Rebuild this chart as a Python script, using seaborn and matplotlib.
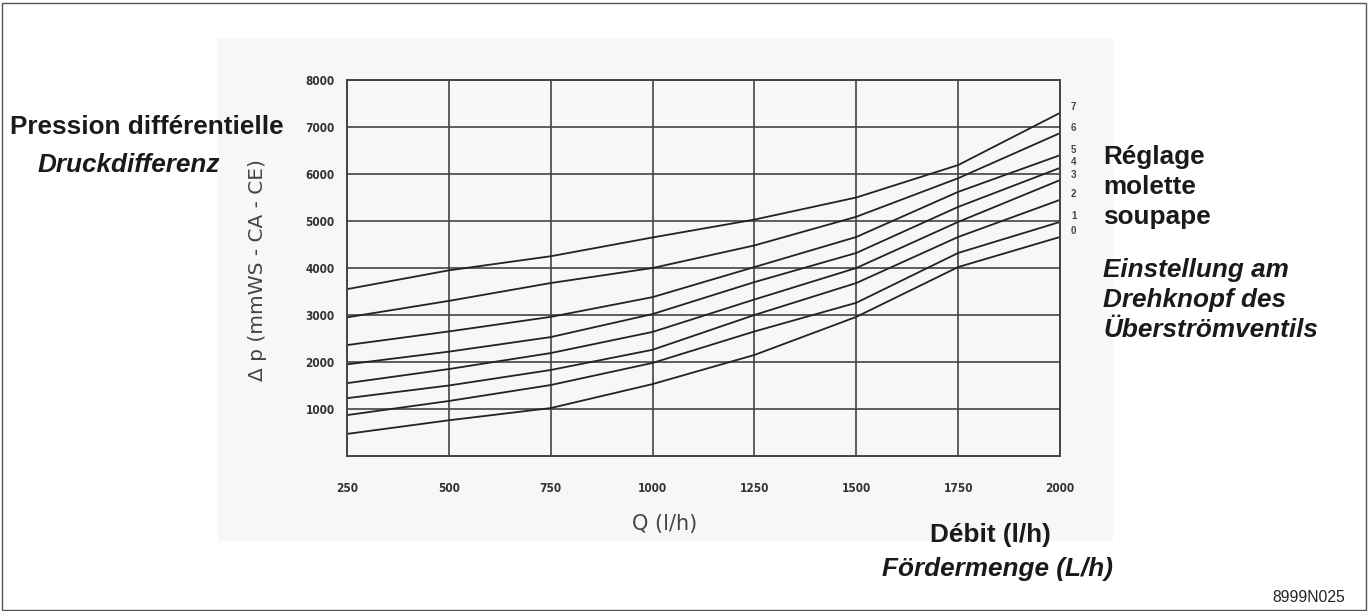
import matplotlib
matplotlib.use("Agg")
import matplotlib.pyplot as plt
import matplotlib.patches as mpatches
import seaborn as sns
import pandas as pd

# ---- data ----
flow = [250, 500, 750, 1000, 1250, 1500, 1750, 2000]
setting_7 = [3550, 3950, 4250, 4650, 5030, 5500, 6190, 7300]
setting_6 = [2950, 3300, 3680, 4000, 4480, 5090, 5910, 6870]
setting_5 = [2360, 2650, 2960, 3380, 4020, 4660, 5620, 6400]
setting_4 = [1950, 2220, 2530, 3020, 3700, 4320, 5300, 6130]
setting_3 = [1550, 1850, 2190, 2640, 3330, 4000, 4980, 5870]
setting_2 = [1230, 1500, 1830, 2260, 3000, 3680, 4660, 5450]
setting_1 = [870, 1170, 1510, 1980, 2650, 3260, 4320, 4980]
setting_0 = [470, 760, 1020, 1530, 2150, 2960, 4020, 4660]
setting_names = ["7", "6", "5", "4", "3", "2", "1", "0"]
x_ticks = [250, 500, 750, 1000, 1250, 1500, 1750, 2000]
y_ticks = [1000, 2000, 3000, 4000, 5000, 6000, 7000, 8000]

series = [setting_7, setting_6, setting_5, setting_4,
          setting_3, setting_2, setting_1, setting_0]
rows = []
for name, vals in zip(setting_names, series):
    for q, v in zip(flow, vals):
        rows.append({"Q": q, "dp": v, "setting": name})
df = pd.DataFrame(rows)

sns.set_theme(style="white")
plt.rcParams["font.family"] = ["Liberation Sans", "DejaVu Sans"]

W, H = 1369, 611
fig = plt.figure(figsize=(W / 100, H / 100), dpi=100)
fig.patch.set_facecolor("white")

# scanned-chart background and outer frame
bg = "#f7f7f7"
fig.patches.append(mpatches.Rectangle((218 / W, 1 - 541 / H), (1113 - 218) / W, (541 - 38) / H,
                                      transform=fig.transFigure, facecolor=bg, edgecolor="none", zorder=-5))
fig.patches.append(mpatches.Rectangle((1.5 / W, 1.5 / H), (W - 5) / W, (H - 4) / H,
                                      transform=fig.transFigure, facecolor="none", edgecolor="#555555",
                                      linewidth=1.0, zorder=-4))

ax = fig.add_axes([347 / W, 1 - 456 / H, (1060 - 347) / W, (456 - 80) / H])
ax.set_zorder(2)
ax.set_facecolor(bg)

sns.lineplot(data=df, x="Q", y="dp", hue="setting", hue_order=setting_names,
             palette=["#222222"] * len(setting_names), linewidth=1.3, legend=False, ax=ax)

ax.set_xlim(250, 2000)
ax.set_ylim(0, 8000)
ax.set_xticks(x_ticks)
ax.set_yticks(y_ticks)
ax.set_xticklabels([str(t) for t in x_ticks], fontsize=8.5, fontweight="bold", color="#333333",
                   family="DejaVu Sans", fontstretch="condensed")
ax.set_yticklabels([str(t) for t in y_ticks], fontsize=8.5, fontweight="bold", color="#333333",
                   family="DejaVu Sans", fontstretch="condensed")
ax.tick_params(axis="both", length=0)
ax.tick_params(axis="x", pad=19)
ax.tick_params(axis="y", pad=9)
ax.grid(True, color="#444444", linewidth=1.2)
ax.set_axisbelow(True)
for s in ax.spines.values():
    s.set_color("#444444")
    s.set_linewidth(1.4)

ax.set_xlabel("Q (l/h)", fontsize=15, color="#444444", family="DejaVu Sans")
ax.xaxis.set_label_coords(0.446, -0.155)
ax.set_ylabel("\u0394 p (mmWS - CA - CE)", fontsize=14.5, color="#444444", family="DejaVu Sans")
ax.yaxis.set_label_coords(-0.112, 0.495)

# curve labels at the right end
for name, vals in zip(setting_names, series):
    ax.annotate(name, xy=(2000, vals[-1]), xytext=(8, 4), textcoords="offset points",
                fontsize=7, fontweight="bold", color="#444444", va="center", ha="left",
                annotation_clip=False)

# annotation texts
fs = 18.8
fig.text(10 / W, 1 - 127 / H, "Pression différentielle", fontsize=fs, fontweight="bold",
         color="#1a1a1a", va="center", ha="left")
fig.text(38 / W, 1 - 165 / H, "Druckdifferenz", fontsize=fs, fontweight="bold", style="italic",
         color="#1a1a1a", va="center", ha="left")
for i, line in enumerate(["Réglage", "molette", "soupape"]):
    fig.text(1103 / W, 1 - (157 + 30 * i) / H, line, fontsize=fs, fontweight="bold",
             color="#1a1a1a", va="center", ha="left")
for i, line in enumerate(["Einstellung am", "Drehknopf des", "Überströmventils"]):
    fig.text(1103 / W, 1 - (270 + 30 * i) / H, line, fontsize=fs, fontweight="bold", style="italic",
             color="#1a1a1a", va="center", ha="left")
fig.text(990 / W, 1 - 535 / H, "Débit (l/h)", fontsize=fs, fontweight="bold",
         color="#1a1a1a", va="center", ha="center")
fig.text(997 / W, 1 - 569 / H, "Fördermenge (L/h)", fontsize=fs, fontweight="bold", style="italic",
         color="#1a1a1a", va="center", ha="center")
fig.text(1345 / W, 1 - 597 / H, "8999N025", fontsize=11.3, color="#222222", va="center", ha="right")

fig.savefig("out.png", dpi=100)
